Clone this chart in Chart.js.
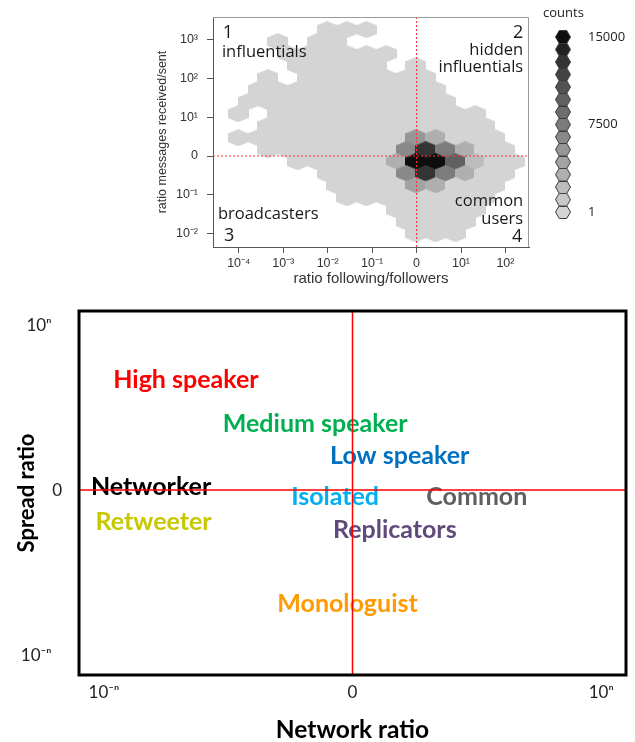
<!DOCTYPE html>
<html>
<head>
<meta charset="utf-8">
<script src="https://cdn.jsdelivr.net/npm/chart.js@4.4.1/dist/chart.umd.min.js"></script>
<style>
    html, body { margin: 0; padding: 0; background: #fff; overflow: hidden; }
    body { width: 635px; height: 742px; position: relative; }
    .box { position: absolute; }
    #hexBox { left: 0; top: 0; }
    #keyBox { left: 535px; top: 0; }
    #mapBox { left: 0; top: 295px; }
</style>
</head>
<body>
<div class="box" id="hexBox"><canvas id="canvas1" width="540" height="300"></canvas></div>
<div class="box" id="keyBox"><canvas id="canvas2" width="100" height="235"></canvas></div>
<div class="box" id="mapBox"><canvas id="canvas3" width="635" height="450"></canvas></div>
<script>
// ---- top panel: hexbin of ratio following/followers vs received/sent (log10 units)
var xTicks = [-4, -3, -2, -1, 0, 1, 2];
var yTicks = [-2, -1, 0, 1, 2, 3];

// hexbin grid rows (row 0 holds the densest cells), first column of each row, counts per cell
var hexRows   = [11, 10, 9, 8, 7, 6, 5, 4, 3, 2, 1, 0, -1, -2, -3, -4, -5, -6];
var hexStarts = [-5, -7, -7, -6, -8, -8, -9, -9, -8, -9, -8, -6, -5, -4, -4, -1, -1, 0];
var hexCounts = [
    [400, 400, 400],
    [400, 0, 400, 400],
    [400, 400, 400, 400, 400, 400],
    [400, 400, 400, 400, 400, 0, 400],
    [400, 0, 400, 400, 400, 400, 400, 400, 400],
    [400, 400, 400, 400, 400, 400, 400, 400, 400, 400],
    [400, 400, 400, 400, 400, 400, 400, 400, 400, 400, 400],
    [400, 0, 400, 400, 400, 400, 400, 400, 400, 400, 400, 400, 400],
    [400, 400, 400, 400, 400, 400, 400, 400, 400, 400, 400, 400],
    [400, 400, 400, 400, 400, 400, 400, 400, 400, 6000, 3500, 400, 400, 400],
    [400, 400, 400, 400, 400, 400, 400, 7000, 13000, 8000, 3500, 400, 400],
    [400, 400, 400, 400, 400, 3500, 14800, 14200, 10000, 2500, 400, 400],
    [400, 400, 400, 400, 7000, 13000, 8000, 3500, 400, 400],
    [400, 400, 400, 400, 5000, 3500, 400, 400, 400],
    [400, 400, 400, 400, 400, 400, 400, 400],
    [400, 400, 400, 400, 400],
    [400, 400, 400, 400],
    [400, 400, 400]
];

// colour key of the counts
var keyCounts = [1, 1071, 2143, 3214, 4286, 5357, 6429, 7500, 8572, 9643, 10714, 11786, 12857, 13929, 15000];
var keyTicks = [1, 7500, 15000];

// ---- bottom panel: user types on network ratio / spread ratio
var typeNames   = ['High speaker', 'Medium speaker', 'Low speaker', 'Networker', 'Isolated', 'Common', 'Retweeter', 'Replicators', 'Monologuist'];
var typeNetwork = [-0.67, -0.15, 0.19, -0.81, -0.07, 0.50, -0.80, 0.17, -0.02];
var typeSpread  = [0.67, 0.40, 0.21, 0.02, -0.04, -0.04, -0.19, -0.24, -0.69];
var mapTicks = [-1, 0, 1];
var mapTickLabels = ['10\u207B\u207F', '0', '10\u207F'];

// bin geometry (log10 units) and axis ranges
var BIN_X0 = -0.015, BIN_DX = 0.444, BIN_Y0 = -0.147, BIN_DY = 0.31;
var X_MIN = -4.58, X_MAX = 2.53, Y_MIN = -2.35, Y_MAX = 3.59;

var typeColors = ['#ff0000', '#00b050', '#0070c0', '#000000', '#00b0f0', '#5f5f5f', '#c8c800', '#604a7b', '#ff9a00'];
var sansFont = "Lato, 'Liberation Sans', 'DejaVu Sans', sans-serif";
var noteFont = "'Open Sans', 'Liberation Sans', sans-serif";

function levelOf(count) {
    return Math.max(0, Math.min(14, Math.floor((count - 1) / 1000)));
}
function shadeOf(level) {
    var g = Math.round(14 + 198 * Math.pow(1 - level / 14, 0.85));
    return 'rgb(' + g + ',' + g + ',' + g + ')';
}
function power(v) {
    if (v === 0) return '0';
    var sup = { '-': '\u207B', '0': '\u2070', '1': '\u00B9', '2': '\u00B2', '3': '\u00B3', '4': '\u2074' };
    return '10' + String(v).split('').map(function (c) { return sup[c]; }).join('');
}

// pointy-top hexagons for the plot, flat-top with outline for the key
function hexTile(fill, w, h, flat, outline) {
    var c = document.createElement('canvas');
    c.width = w; c.height = h;
    var g = c.getContext('2d');
    g.beginPath();
    if (flat) {
        g.moveTo(w * 0.27, 0.5); g.lineTo(w * 0.73, 0.5); g.lineTo(w - 0.5, h / 2);
        g.lineTo(w * 0.73, h - 0.5); g.lineTo(w * 0.27, h - 0.5); g.lineTo(0.5, h / 2);
    } else {
        g.moveTo(w / 2, 0); g.lineTo(w, h / 4); g.lineTo(w, h * 3 / 4);
        g.lineTo(w / 2, h); g.lineTo(0, h * 3 / 4); g.lineTo(0, h / 4);
    }
    g.closePath();
    g.fillStyle = fill;
    g.fill();
    if (outline) { g.strokeStyle = outline; g.lineWidth = 1; g.stroke(); }
    return c;
}

var plotTiles = [], keyTiles = [];
for (var i = 0; i < 15; i++) {
    plotTiles.push(hexTile(shadeOf(i), 21, 17, false));
    keyTiles.push(hexTile(shadeOf(i), 16, 14, true, '#3a3a3a'));
}

var hexData = [];
hexRows.forEach(function (row, r) {
    hexCounts[r].forEach(function (count, n) {
        if (!count) return;
        var j = hexStarts[r] + n + (Math.abs(row) % 2 === 1 ? 0.5 : 0);
        hexData.push({ x: BIN_X0 + BIN_DX * j, y: BIN_Y0 + BIN_DY * row, count: count });
    });
});

var quadrantNotes = [
    { text: '1', x: -4.36, y: 3.18, align: 'left', size: 18 },
    { text: 'influentials', x: -4.38, y: 2.69, align: 'left', size: 16.5 },
    { text: '2', x: 2.40, y: 3.18, align: 'right', size: 18 },
    { text: 'hidden', x: 2.40, y: 2.74, align: 'right', size: 16.5 },
    { text: 'influentials', x: 2.40, y: 2.30, align: 'right', size: 16.5 },
    { text: 'broadcasters', x: -4.47, y: -1.50, align: 'left', size: 16.5 },
    { text: '3', x: -4.33, y: -2.07, align: 'left', size: 18 },
    { text: 'common', x: 2.40, y: -1.16, align: 'right', size: 16.5 },
    { text: 'users', x: 2.40, y: -1.63, align: 'right', size: 16.5 },
    { text: '4', x: 2.38, y: -2.09, align: 'right', size: 18 }
];

var notesPlugin = {
    id: 'notes',
    afterDatasetsDraw: function (chart) {
        var ctx = chart.ctx, sx = chart.scales.x, sy = chart.scales.y;
        ctx.save();
        ctx.fillStyle = '#1a1a1a';
        ctx.textBaseline = 'middle';
        quadrantNotes.forEach(function (n) {
            ctx.font = n.size + 'px ' + noteFont;
            ctx.textAlign = n.align;
            ctx.fillText(n.text, sx.getPixelForValue(n.x), sy.getPixelForValue(n.y));
        });
        ctx.restore();
    }
};

var frameTopRight = {
    id: 'frameTopRight',
    afterDraw: function (chart) {
        var a = chart.chartArea, ctx = chart.ctx;
        ctx.save();
        ctx.strokeStyle = '#9a9a9a';
        ctx.lineWidth = 1;
        ctx.beginPath();
        ctx.moveTo(a.left, a.top + 0.5);
        ctx.lineTo(a.right - 0.5, a.top + 0.5);
        ctx.lineTo(a.right - 0.5, a.bottom);
        ctx.stroke();
        ctx.restore();
    }
};

// keep tick padding from pushing the chart area in
function noOverflow(s) { s.paddingTop = 0; s.paddingBottom = 0; s.paddingLeft = 0; s.paddingRight = 0; }

var tickFont = { family: "'Liberation Sans', Arial, sans-serif", size: 12.5 };

new Chart(document.getElementById('canvas1'), {
    type: 'scatter',
    data: {
        datasets: [
            { data: [{ x: 0, y: Y_MIN }, { x: 0, y: Y_MAX }], showLine: true, borderColor: '#ff3030', borderWidth: 1, borderDash: [2, 2], pointRadius: 0 },
            { data: [{ x: X_MIN, y: 0 }, { x: X_MAX, y: 0 }], showLine: true, borderColor: '#ff3030', borderWidth: 1, borderDash: [2, 2], pointRadius: 0 },
            {
                data: hexData,
                pointRadius: 10,
                clip: false,
                pointStyle: function (c) { return plotTiles[levelOf(c.raw.count)]; }
            }
        ]
    },
    options: {
        responsive: false,
        animation: false,
        events: [],
        layout: { padding: { left: 150, top: 17, right: 7, bottom: 0 } },
        plugins: { legend: { display: false }, tooltip: { enabled: false } },
        scales: {
            x: {
                type: 'linear', min: X_MIN, max: X_MAX,
                afterFit: function (s) { s.height = 53; noOverflow(s); },
                afterBuildTicks: function (s) { s.ticks = xTicks.map(function (v) { return { value: v }; }); },
                grid: { drawOnChartArea: false, drawTicks: true, tickLength: 6, color: '#555' },
                border: { color: '#555' },
                ticks: { font: tickFont, color: '#333', padding: 3, maxRotation: 0, callback: function (v) { return power(v); } },
                title: { display: true, text: 'ratio following/followers', color: '#333', font: { family: tickFont.family, size: 15 }, padding: { top: 0, bottom: 12 } }
            },
            y: {
                type: 'linear', min: Y_MIN, max: Y_MAX,
                afterFit: function (s) { s.width = 63; noOverflow(s); },
                afterBuildTicks: function (s) { s.ticks = yTicks.map(function (v) { return { value: v }; }); },
                grid: { drawOnChartArea: false, drawTicks: true, tickLength: 6, color: '#555' },
                border: { color: '#555' },
                ticks: { font: tickFont, color: '#333', padding: 9, callback: function (v) { return power(v); } },
                title: { display: true, text: 'ratio messages received/sent', color: '#333', font: { family: tickFont.family, size: 12.5 }, padding: { top: 5, bottom: 0 } }
            }
        }
    },
    plugins: [notesPlugin, frameTopRight]
});

// ---- colour key
var keyTitle = {
    id: 'keyTitle',
    afterDraw: function (chart) {
        var ctx = chart.ctx;
        ctx.save();
        ctx.font = '13px ' + noteFont;
        ctx.fillStyle = '#222';
        ctx.textBaseline = 'middle';
        ctx.fillText('counts', 8, 13);
        ctx.restore();
    }
};

new Chart(document.getElementById('canvas2'), {
    type: 'scatter',
    data: {
        datasets: [{
            data: keyCounts.map(function (v) { return { x: 0.5, y: v }; }),
            pointRadius: 8,
            clip: false,
            pointStyle: function (c) { return keyTiles[c.dataIndex]; }
        }]
    },
    options: {
        responsive: false,
        animation: false,
        events: [],
        layout: { padding: { left: 20, top: 37, right: 0, bottom: 23 } },
        plugins: { legend: { display: false }, tooltip: { enabled: false } },
        scales: {
            x: { display: false, min: 0, max: 1 },
            y: {
                position: 'right', min: 1, max: 15000,
                afterFit: function (s) { s.width = 64; noOverflow(s); },
                afterBuildTicks: function (s) { s.ticks = keyTicks.map(function (v) { return { value: v }; }); },
                grid: { display: false, drawTicks: false },
                border: { display: false },
                ticks: { font: { family: noteFont, size: 13 }, color: '#222', padding: 17, callback: function (v) { return String(v); } }
            }
        }
    },
    plugins: [keyTitle]
});

// ---- bottom panel
var typeLabels = {
    id: 'typeLabels',
    beforeDatasetsDraw: function (chart) {
        var ctx = chart.ctx, meta = chart.getDatasetMeta(2);
        ctx.save();
        ctx.font = 'bold 25px ' + sansFont;
        ctx.textAlign = 'center';
        ctx.textBaseline = 'middle';
        meta.data.forEach(function (pt, i) {
            ctx.fillStyle = typeColors[i];
            ctx.fillText(typeNames[i], pt.x, pt.y);
        });
        ctx.restore();
    }
};

var blackFrame = {
    id: 'blackFrame',
    afterDraw: function (chart) {
        var a = chart.chartArea, ctx = chart.ctx;
        ctx.save();
        ctx.strokeStyle = '#000';
        ctx.lineWidth = 3;
        ctx.strokeRect(a.left, a.top, a.right - a.left, a.bottom - a.top);
        ctx.restore();
    }
};

var MAP_X_MIN = -1.1, MAP_X_MAX = 1.1, MAP_Y_MIN = -1.12, MAP_Y_MAX = 1.085;

new Chart(document.getElementById('canvas3'), {
    type: 'scatter',
    data: {
        datasets: [
            { data: [{ x: 0, y: MAP_Y_MIN }, { x: 0, y: MAP_Y_MAX }], showLine: true, borderColor: '#ff0000', borderWidth: 1.5, pointRadius: 0 },
            { data: [{ x: MAP_X_MIN, y: 0 }, { x: MAP_X_MAX, y: 0 }], showLine: true, borderColor: '#ff0000', borderWidth: 1.5, pointRadius: 0 },
            { data: typeNames.map(function (n, i) { return { x: typeNetwork[i], y: typeSpread[i] }; }), pointRadius: 0 }
        ]
    },
    options: {
        responsive: false,
        animation: false,
        events: [],
        layout: { padding: { left: 0, top: 16, right: 9, bottom: 0 } },
        plugins: { legend: { display: false }, tooltip: { enabled: false } },
        scales: {
            x: {
                type: 'linear', min: MAP_X_MIN, max: MAP_X_MAX,
                afterFit: function (s) { s.height = 70; noOverflow(s); },
                afterBuildTicks: function (s) { s.ticks = mapTicks.map(function (v) { return { value: v }; }); },
                grid: { display: false, drawTicks: false },
                border: { display: false },
                ticks: { font: { family: sansFont, size: 17 }, color: '#222', padding: 7, maxRotation: 0, callback: function (v) { return mapTickLabels[mapTicks.indexOf(v)]; } },
                title: { display: true, text: 'Network ratio', color: '#000', font: { family: sansFont, size: 24.5, weight: 'bold' }, padding: { top: 0, bottom: 0 } }
            },
            y: {
                type: 'linear', min: MAP_Y_MIN, max: MAP_Y_MAX,
                afterFit: function (s) { s.width = 79; noOverflow(s); },
                afterBuildTicks: function (s) { s.ticks = mapTicks.map(function (v) { return { value: v }; }); },
                grid: { display: false, drawTicks: false },
                border: { display: false },
                ticks: {
                    font: { family: sansFont, size: 17 }, color: '#222', padding: 17,
                    callback: function (v) {
                        var t = mapTickLabels[mapTicks.indexOf(v)];
                        return v === 0 ? t : t + '\u2002\u2009';
                    }
                },
                title: { display: true, text: 'Spread ratio', color: '#000', font: { family: sansFont, size: 22, weight: 'bold' }, padding: { top: 14, bottom: 0 } }
            }
        }
    },
    plugins: [typeLabels, blackFrame]
});
</script>
</body>
</html>
